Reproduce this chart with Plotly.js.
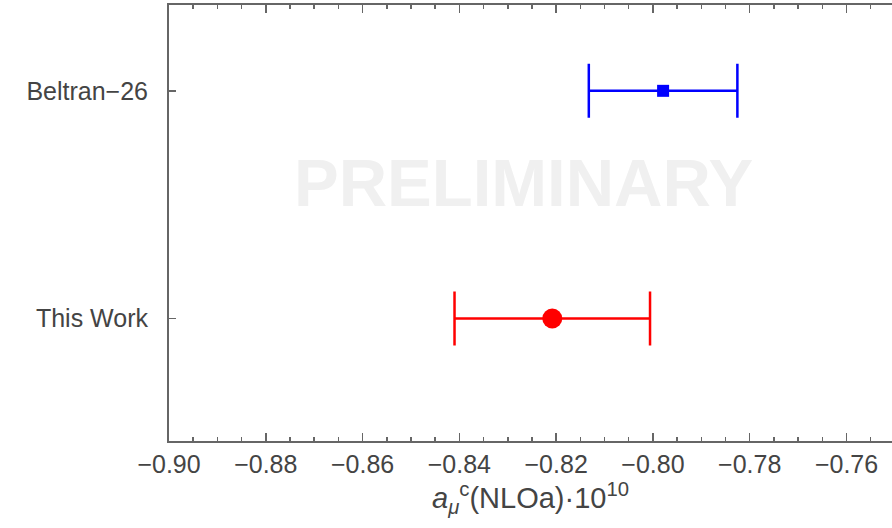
<!DOCTYPE html>
<html>
<head>
<meta charset="utf-8">
<script src="https://cdn.plot.ly/plotly-3.0.1.min.js"></script>
<style>html,body{margin:0;padding:0;overflow:hidden;background:#fff;}</style>
</head>
<body>
<div id="chart" style="width:892px;height:528px;"></div>
<script>
// Data
const labels = ["This Work", "Beltran\u221226"];
const positions = [1, 2];
const values = [-0.8208, -0.7979];
const errors = [0.0202, 0.01535];
const colors = ["#ff0000", "#0000ff"];
const symbols = ["circle", "square"];
const markerSizes = [20, 12];
const xTickVals = [-0.90, -0.88, -0.86, -0.84, -0.82, -0.80, -0.78, -0.76];
const xTickText = ["\u22120.90", "\u22120.88", "\u22120.86", "\u22120.84", "\u22120.82", "\u22120.80", "\u22120.78", "\u22120.76"];

const traces = labels.map((lab, i) => ({
  type: "scatter",
  mode: "markers",
  name: lab,
  x: [values[i]],
  y: [positions[i]],
  marker: {color: colors[i], symbol: symbols[i], size: markerSizes[i], line: {width: 0}},
  error_x: {type: "data", array: [errors[i]], symmetric: true, color: colors[i], thickness: 2.5, width: 27},
  showlegend: false,
  hoverinfo: "skip"
}));

const font = "'Liberation Sans', Arial, sans-serif";
const layout = {
  width: 892, height: 528,
  margin: {l: 169, r: 0, t: 5, b: 87, pad: 0},
  paper_bgcolor: "#fff", plot_bgcolor: "#fff",
  font: {family: font, color: "#444", size: 25},
  xaxis: {
    range: [-0.90, -0.7506],
    tickvals: xTickVals, ticktext: xTickText,
    ticks: "inside", ticklen: 8, tickwidth: 1.5, tickcolor: "#666",
    minor: {dtick: 0.005, tick0: -0.90, ticks: "inside", ticklen: 4, tickwidth: 1.5, tickcolor: "#666", showgrid: false},
    showline: true, linecolor: "#666", linewidth: 2, mirror: "allticks",
    showgrid: false, zeroline: false,
    tickfont: {family: font, size: 25, color: "#444"},
    ticklabelstandoff: 0,
    title: {text: "<i>a</i><sub><i>\u03bc</i></sub><sup>c</sup>(NLOa)\u00b710<sup>10</sup>", font: {family: font, size: 29, color: "#444"}, standoff: 9}
  },
  yaxis: {
    range: [0.462, 2.377],
    tickvals: positions, ticktext: labels,
    ticks: "inside", ticklen: 7, tickwidth: 1.5, tickcolor: "#666",
    showline: true, linecolor: "#666", linewidth: 2, mirror: false,
    showgrid: false, zeroline: false,
    tickfont: {family: font, size: 25, color: "#444"},
    ticklabelstandoff: 14
  },
  annotations: [{
    text: "<b>PRELIMINARY</b>", xref: "paper", yref: "paper",
    x: 0.491, y: 0.594, xanchor: "center", yanchor: "middle",
    showarrow: false,
    font: {family: font, size: 67, color: "#f0f0f0"}
  }]
};

Plotly.newPlot("chart", traces, layout, {staticPlot: true, displayModeBar: false});
</script>
</body>
</html>
